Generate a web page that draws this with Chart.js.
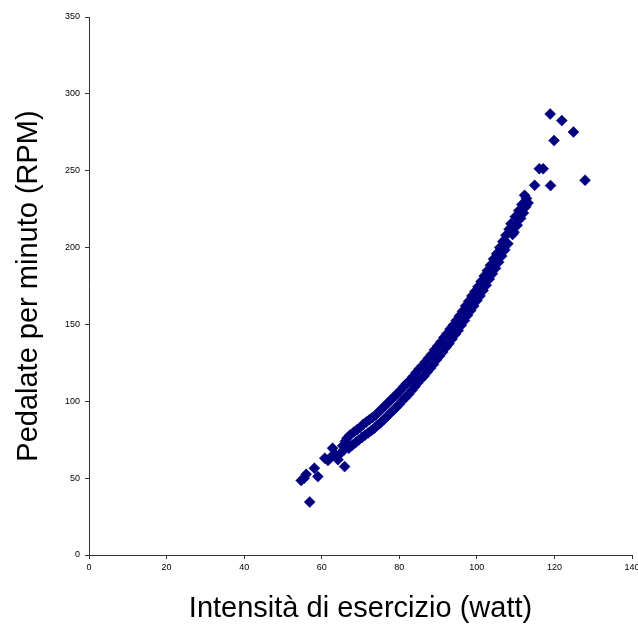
<!DOCTYPE html>
<html>
<head>
<meta charset="utf-8">
<script src="https://cdn.jsdelivr.net/npm/chart.js@4.4.0/dist/chart.umd.min.js"></script>
<style>
  html, body { margin: 0; padding: 0; background: #fff; }
  #wrap { width: 638px; height: 626px; }
</style>
</head>
<body>
<div id="wrap"><canvas id="scatterChart" width="638" height="626"></canvas></div>
<script>
// watt / rpm pairs
var wattValues = [
    54.7, 55.5, 56.0, 56.9, 58.1, 59.0, 60.8, 61.6, 62.5, 62.8, 63.5, 64.2, 64.8, 65.4, 65.9, 65.8, 66.1,
    66.5, 67.0, 67.3, 67.9, 68.3, 68.7, 69.1, 69.6, 69.9, 70.4, 70.7, 71.2, 71.5, 72.0, 72.3, 72.8,
    73.1, 73.6, 73.9, 74.4, 74.7, 75.2, 75.5, 76.0, 76.3, 76.8, 77.1, 77.6, 77.9, 78.4, 78.7, 79.2,
    79.5, 80.0, 80.3, 80.8, 81.1, 81.6, 81.9, 82.4, 82.7, 83.2, 83.5, 84.0, 84.3, 84.8, 85.1, 85.6,
    85.9, 86.4, 86.7, 87.2, 87.5, 88.0, 88.3, 88.8, 89.1, 89.6, 89.9, 90.4, 90.7, 91.2, 91.5, 92.0,
    92.3, 92.8, 93.1, 93.6, 93.9, 94.4, 94.7, 95.2, 95.5, 96.0, 96.3, 96.8, 97.1, 97.6, 97.9, 98.4,
    98.7, 99.2, 99.5, 100.0, 100.3, 100.8, 101.1, 101.6, 101.9, 102.4, 102.7, 103.2, 103.5, 104.0,
    104.3, 104.8, 105.1, 105.6, 105.9, 106.4, 106.7, 107.2, 107.5, 108.0, 108.3, 108.8, 109.2, 109.6,
    109.9, 110.4, 110.8, 111.3, 111.6, 112.0, 112.3, 112.6, 112.8, 113.2,
    114.9, 116.1, 117.1, 119.0, 118.9, 119.9, 121.9, 124.9, 127.9
];
var rpmValues = [
    48.5, 50.0, 52.5, 34.5, 56.5, 51.0, 63.0, 61.5, 64.0, 69.5, 65.5, 62.0, 66.0, 71.0, 57.5, 68.5, 74.0,
    76.0, 69.5, 78.0, 71.5, 80.0, 73.0, 81.5, 75.0, 83.0, 76.5, 85.0, 78.0, 86.5, 79.5, 88.0, 81.0,
    89.5, 82.5, 91.0, 84.5, 93.0, 86.0, 95.0, 88.0, 97.0, 90.0, 99.0, 92.0, 101.0, 94.0, 103.0, 96.0,
    105.0, 98.0, 107.0, 100.5, 109.5, 102.5, 111.5, 104.5, 113.5, 107.0, 116.0, 109.5, 118.5, 112.0, 121.0, 114.5,
    123.0, 116.5, 125.5, 119.0, 128.0, 121.5, 130.5, 124.0, 133.5, 127.0, 136.0, 129.5, 138.5, 132.0, 141.5, 135.0,
    144.0, 137.5, 147.0, 140.5, 149.5, 143.5, 152.5, 146.0, 155.5, 149.5, 158.5, 152.5, 162.0, 156.0, 165.0, 159.0,
    168.5, 162.0, 171.5, 165.5, 174.5, 168.5, 178.0, 172.0, 181.5, 175.5, 185.0, 179.5, 188.5, 183.0,
    192.5, 186.5, 196.0, 190.5, 200.0, 194.5, 204.0, 198.5, 208.0, 202.5, 212.0, 215.5, 208.5, 210.0,
    220.0, 214.5, 224.0, 219.0, 228.0, 222.5, 234.0, 226.6, 232.0, 229.0,
    240.5, 251.3, 251.3, 240.3, 286.9, 269.6, 282.6, 275.2, 243.8
];

var xTicks = [0, 20, 40, 60, 80, 100, 120, 140];
var yTicks = [0, 50, 100, 150, 200, 250, 300, 350];

var points = wattValues.map(function (w, i) {
    return { x: w, y: rpmValues[i] };
});

var tickFont = { family: "'Liberation Sans', Arial, sans-serif", size: 9 };
var titleFont = { family: "'Liberation Sans', Arial, sans-serif", size: 29 };

new Chart(document.getElementById('scatterChart').getContext('2d'), {
    type: 'scatter',
    data: {
        datasets: [{
            label: 'RPM',
            data: points,
            pointStyle: 'rectRot',
            pointRadius: 5.5,
            pointHoverRadius: 5.5,
            borderWidth: 0.5,
            backgroundColor: '#000080',
            borderColor: '#000080'
        }]
    },
    options: {
        responsive: false,
        animation: false,
        events: [],
        layout: { padding: { top: 17, right: 5, left: 0, bottom: 0 } },
        plugins: {
            legend: { display: false },
            tooltip: { enabled: false }
        },
        scales: {
            x: {
                type: 'linear',
                min: 0,
                max: 140,
                afterBuildTicks: function (scale) {
                    scale.ticks = xTicks.map(function (v) { return { value: v }; });
                },
                afterFit: function (scale) {
                    scale.height = 71;
                    scale.paddingLeft = 0;
                    scale.paddingRight = 0;
                },
                grid: { drawOnChartArea: false, drawTicks: true, tickLength: 4, color: '#333' },
                border: { color: '#333', width: 1 },
                ticks: { color: '#000', font: tickFont, padding: 3, maxRotation: 0 },
                title: {
                    display: true,
                    text: 'Intensità di esercizio (watt)',
                    color: '#000',
                    font: titleFont,
                    padding: { top: 0, bottom: 0 }
                }
            },
            y: {
                type: 'linear',
                min: 0,
                max: 350,
                afterBuildTicks: function (scale) {
                    scale.ticks = yTicks.map(function (v) { return { value: v }; });
                },
                afterFit: function (scale) {
                    scale.width = 89;
                    scale.paddingTop = 0;
                    scale.paddingBottom = 0;
                },
                grid: { drawOnChartArea: false, drawTicks: true, tickLength: 4, color: '#333' },
                border: { color: '#333', width: 1 },
                ticks: { color: '#000', font: tickFont, padding: 5 },
                title: {
                    display: true,
                    text: 'Pedalate per minuto (RPM)',
                    color: '#000',
                    font: titleFont,
                    padding: { top: 12, bottom: 0 }
                }
            }
        }
    }
});
</script>
</body>
</html>
